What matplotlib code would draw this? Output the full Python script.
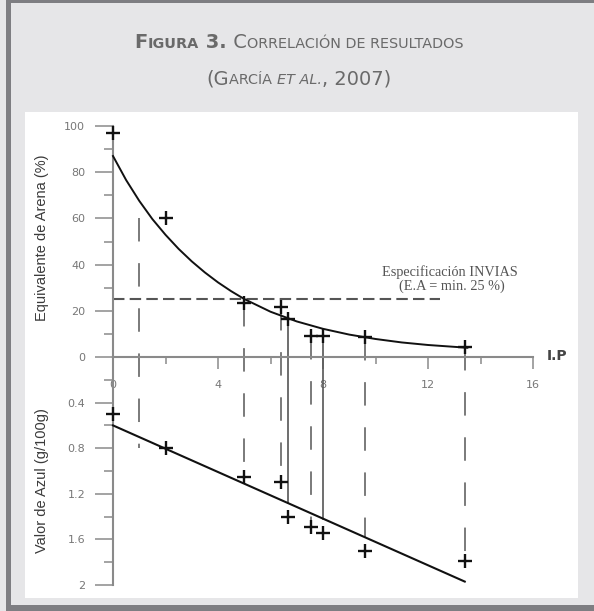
import matplotlib
matplotlib.use("Agg")
import matplotlib.pyplot as plt
from matplotlib.patches import Rectangle
from matplotlib.offsetbox import TextArea, HPacker, AnchoredOffsetbox

# values
ip = [0, 2, 5, 6.4, 6.65, 7.55, 8, 9.6, 13.4]
equiv_arena = [97, 60, 23.5, 21.5, 16.5, 9, 9, 8.6, 4.5]
valor_azul = [0.5, 0.8, 1.05, 1.1, 1.4, 1.49, 1.54, 1.7, 1.79]

# fitted curve (E.A.) and fitted line (azul)
curve_ip = [0, 0.5, 1, 1.5, 2, 2.5, 3, 3.5, 4, 4.5, 5, 6, 7, 8, 9, 10, 11, 12, 13, 13.5]
curve_ea = [87, 76.6, 67.6, 59.7, 52.9, 46.8, 41.4, 36.6, 32.3, 28.5, 25.1, 19.6,
            15.4, 12.2, 9.7, 7.8, 6.3, 5.2, 4.4, 4.0]
line_ip = [0, 13.4]
line_azul = [0.6, 1.97]

# vertical connectors between both graphs
conn_ip = [1, 5, 6.4, 6.65, 7.55, 8, 9.6, 13.4]
conn_ea = [60, 23.5, 21.5, 16.5, 9, 12.2, 8.6, 4.5]
conn_azul = [0.8, 1.05, 1.1, 1.28, 1.49, 1.42, 1.58, 1.79]
conn_dashed = [True, True, True, False, True, False, True, True]

spec_ea = 25
spec_end = 12.45

x_major = [0, 4, 8, 12, 16]
x_minor = [2, 6, 10, 14]
ea_major = [0, 20, 40, 60, 80, 100]
ea_minor = [10, 30, 50, 70, 90]
az_major = [0.4, 0.8, 1.2, 1.6, 2.0]
az_labels = ["0.4", "0.8", "1.2", "1.6", "2"]
az_minor = [0.2, 0.6, 1.0, 1.4, 1.8]

W, H = 594, 611
fx = lambda x: x / W
fy = lambda y: 1 - y / H

fig = plt.figure(figsize=(W / 100, H / 100), dpi=100)
fig.patch.set_facecolor("#e6e6e8")

# frame and white panel
dark = "#7e7e82"
for r in [(6, 0, 5, 611), (6, 0, 594, 3), (6, 605, 594, 6)]:
    fig.add_artist(Rectangle((fx(r[0]), fy(r[1] + r[3])), r[2] / W, r[3] / H,
                             transform=fig.transFigure, color=dark, lw=0, zorder=-5))
fig.add_artist(Rectangle((fx(25), fy(598)), 553 / W, 486 / H, transform=fig.transFigure,
                         color="white", lw=0, zorder=-5))

# title in small caps
tcol = "#6a6a6a"
big = dict(fontsize=14, color=tcol, family="DejaVu Sans")
small = dict(fontsize=10.4, color=tcol, family="DejaVu Sans")


def title_line(parts, y):
    kids = [TextArea(t, textprops=p) for t, p in parts]
    pack = HPacker(children=kids, align="baseline", pad=0, sep=0)
    box = AnchoredOffsetbox(loc="center", child=pack, frameon=False, pad=0, borderpad=0,
                            bbox_to_anchor=(fx(299), fy(y)), bbox_transform=fig.transFigure)
    fig.add_artist(box)


title_line([("F", dict(big, weight="bold")), ("IGURA", dict(small, weight="bold")),
            (" 3.", dict(big, weight="bold")), (" C", big),
            ("ORRELACIÓN DE RESULTADOS", small)], 43)
title_line([("(G", big), ("ARCÍA ", small), ("ET AL.", dict(small, style="italic")),
            (", 2007)", big)], 79)

ax_top = fig.add_axes([fx(113), fy(357), 420 / W, 231 / H])
ax_bot = fig.add_axes([fx(113), fy(585), 420 / W, 228 / H])

gray = "#8a8a8a"
for ax in (ax_top, ax_bot):
    ax.set_facecolor("none")
    ax.set_xlim(0, 16)
    for s in ("top", "right", "bottom"):
        ax.spines[s].set_visible(False)
    ax.spines["left"].set_color(gray)
    ax.spines["left"].set_linewidth(1.5)
    ax.tick_params(axis="y", which="major", length=13, width=1.1, color=gray,
                   labelcolor="#777777", labelsize=8, pad=7)
    ax.tick_params(axis="y", which="minor", length=6.5, width=1.1, color=gray)

ax_top.spines["bottom"].set_visible(True)
ax_top.spines["bottom"].set_color(gray)
ax_top.spines["bottom"].set_linewidth(1.5)
ax_top.set_ylim(0, 100)
ax_top.set_yticks(ea_major)
ax_top.set_yticks(ea_minor, minor=True)
ax_top.set_xticks(x_major)
ax_top.set_xticks(x_minor, minor=True)
ax_top.tick_params(axis="x", which="major", length=8.6, width=1.1, color=gray,
                   labelcolor="#777777", labelsize=8, pad=8)
ax_top.tick_params(axis="x", which="minor", length=5, width=1.1, color=gray)

ax_bot.set_ylim(2, 0)
ax_bot.set_yticks(az_major)
ax_bot.set_yticklabels(az_labels)
ax_bot.set_yticks(az_minor, minor=True)
ax_bot.set_xticks([])

# connectors, drawn in the top axes down into the bottom graph
to_top = ax_top.transData.inverted()
for x, ea, az, dashed in zip(conn_ip, conn_ea, conn_azul, conn_dashed):
    xb, yb = to_top.transform(ax_bot.transData.transform((x, az)))
    if dashed:
        ax_top.plot([x, xb], [ea, yb], color="#707070", lw=1.3, dashes=(13, 12),
                    clip_on=False, zorder=2)
    else:
        ax_top.plot([x, xb], [ea, yb], color="#555555", lw=1.2, clip_on=False, zorder=2)

# specification line
ax_top.plot([0, spec_end], [spec_ea, spec_ea], color="#555555", lw=1.5,
            dashes=(5.5, 2.5), zorder=2)
ax_top.text(12.85, 36.8, "Especificación INVIAS", family="Liberation Serif",
            fontsize=10.3, color="#555555", ha="center", va="center")
ax_top.text(12.9, 30.8, "(E.A = min. 25 %)", family="Liberation Serif",
            fontsize=10.3, color="#555555", ha="center", va="center")

ax_top.plot(curve_ip, curve_ea, color="#111111", lw=1.4, clip_on=False, zorder=3)
ax_top.plot(ip, equiv_arena, "+", ms=9.5, mew=1.7, color="#111111", clip_on=False, zorder=4)
ax_bot.plot(line_ip, line_azul, color="#111111", lw=1.5, clip_on=False, zorder=3)
ax_bot.plot(ip, valor_azul, "+", ms=9.5, mew=1.7, color="#111111", clip_on=False, zorder=4)

fig.text(fx(42), fy(238), "Equivalente de Arena (%)", rotation=90, ha="center",
         va="center", fontsize=10.5, family="Liberation Sans", color="#3a3a3a")
fig.text(fx(42), fy(481), "Valor de Azul (g/100g)", rotation=90, ha="center",
         va="center", fontsize=10.5, family="Liberation Sans", color="#3a3a3a")
fig.text(fx(557), fy(356), "I.P", ha="center", va="center", fontsize=10,
         fontweight="bold", family="DejaVu Sans", color="#444444")

fig.savefig("out.png", dpi=100, facecolor=fig.get_facecolor())
